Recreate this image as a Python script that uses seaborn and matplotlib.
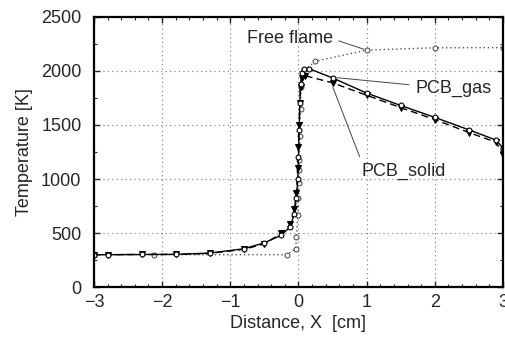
import matplotlib
matplotlib.use("Agg")
import matplotlib.pyplot as plt
import seaborn as sns
import pandas as pd
from matplotlib.ticker import MultipleLocator

sns.set_theme(style="ticks")
plt.rcParams['font.family'] = ['Liberation Sans', 'DejaVu Sans']

# === Data ===
free_x = [-3.0, -2.12, -0.17, -0.04, -0.03, -0.01, 0.0, 0.005, 0.01, 0.015,
          0.02, 0.03, 0.04, 0.06, 0.25, 1.0, 2.0, 3.0]
free_T = [300, 300, 300, 356, 464, 666, 820, 966, 1084, 1176,
          1400, 1650, 1850, 1990, 2090, 2192, 2214, 2215]

gas_x = [-3.0, -2.8, -2.3, -1.8, -1.3, -0.8, -0.5, -0.25, -0.12, -0.06, -0.03,
         -0.01, 0.0, 0.01, 0.02, 0.03, 0.05, 0.08, 0.15, 0.5, 1.0, 1.5, 2.0,
         2.5, 2.9, 3.0]
gas_T = [300, 300, 302, 303, 315, 355, 410, 480, 560, 680, 820,
         1000, 1200, 1450, 1700, 1880, 1980, 2015, 2022, 1935, 1795, 1680, 1570,
         1455, 1360, 1285]

solid_x = [-3.0, -2.8, -2.3, -1.8, -1.3, -0.8, -0.5, -0.25, -0.12, -0.06, -0.03,
           -0.01, 0.0, 0.01, 0.02, 0.03, 0.05, 0.1, 0.5, 1.0, 1.5, 2.0,
           2.5, 2.9, 3.0]
solid_T = [300, 300, 302, 303, 312, 350, 400, 500, 580, 720, 870,
           1100, 1300, 1500, 1700, 1850, 1930, 1955, 1890, 1775, 1660, 1550,
           1430, 1340, 1225]

free_df = pd.DataFrame({"x": free_x, "T": free_T})
gas_df = pd.DataFrame({"x": gas_x, "T": gas_T})
solid_df = pd.DataFrame({"x": solid_x, "T": solid_T})

# === Figure ===
fig, ax = plt.subplots(figsize=(5.05, 3.37), dpi=100)
fig.subplots_adjust(left=0.186, right=0.996, top=0.950, bottom=0.148)

sns.lineplot(data=free_df, x="x", y="T", ax=ax, sort=False, color="#555555",
             linestyle=(0, (1, 2)), linewidth=1.0, marker="o", markersize=3.5,
             markerfacecolor="white", markeredgecolor="#555555", markeredgewidth=0.8)
sns.lineplot(data=solid_df, x="x", y="T", ax=ax, sort=False, color="black",
             linestyle=(0, (5, 3)), linewidth=1.0, marker="v", markersize=4,
             markerfacecolor="black", markeredgecolor="black")
sns.lineplot(data=gas_df, x="x", y="T", ax=ax, sort=False, color="black",
             linestyle="-", linewidth=1.0, marker="o", markersize=3.5,
             markerfacecolor="white", markeredgecolor="black", markeredgewidth=0.8)

# === Axes ===
ax.set_xlim(-3, 3)
ax.set_ylim(0, 2500)
ax.xaxis.set_major_locator(MultipleLocator(1))
ax.xaxis.set_minor_locator(MultipleLocator(0.2))
ax.yaxis.set_major_locator(MultipleLocator(500))
ax.yaxis.set_minor_locator(MultipleLocator(250))
ax.tick_params(which="both", direction="in", top=True, right=True, labelsize=13)
ax.tick_params(which="major", length=4, width=1)
ax.tick_params(which="minor", length=2.5, width=0.8)
ax.tick_params(axis="x", which="major", pad=5)
ax.tick_params(axis="y", which="major", pad=9)
ax.grid(True, which="major", linestyle=(0, (1, 3)), color="#777777", linewidth=0.8)
for s in ax.spines.values():
    s.set_linewidth(1.6)
    s.set_color("black")

ax.set_xlabel("Distance, X  [cm]", fontsize=13, labelpad=3)
ax.set_ylabel("Temperature [K]", fontsize=13, labelpad=6)

# === Labels with leader lines ===
lead = dict(arrowstyle="-", color="#444444", linewidth=0.7)
ax.annotate("Free flame", xy=(1.0, 2192), xytext=(-0.76, 2296), fontsize=13,
            va="center", ha="left", arrowprops=dict(lead, relpos=(1, 0.5)))
ax.annotate("PCB_gas", xy=(0.52, 1940), xytext=(1.71, 1835), fontsize=13,
            va="center", ha="left", arrowprops=dict(lead, relpos=(0, 0.7)))
ax.annotate("PCB_solid", xy=(0.49, 1873), xytext=(0.93, 1074), fontsize=13,
            va="center", ha="left", arrowprops=dict(lead, relpos=(0, 1)))

plt.savefig("out.png", dpi=100)
